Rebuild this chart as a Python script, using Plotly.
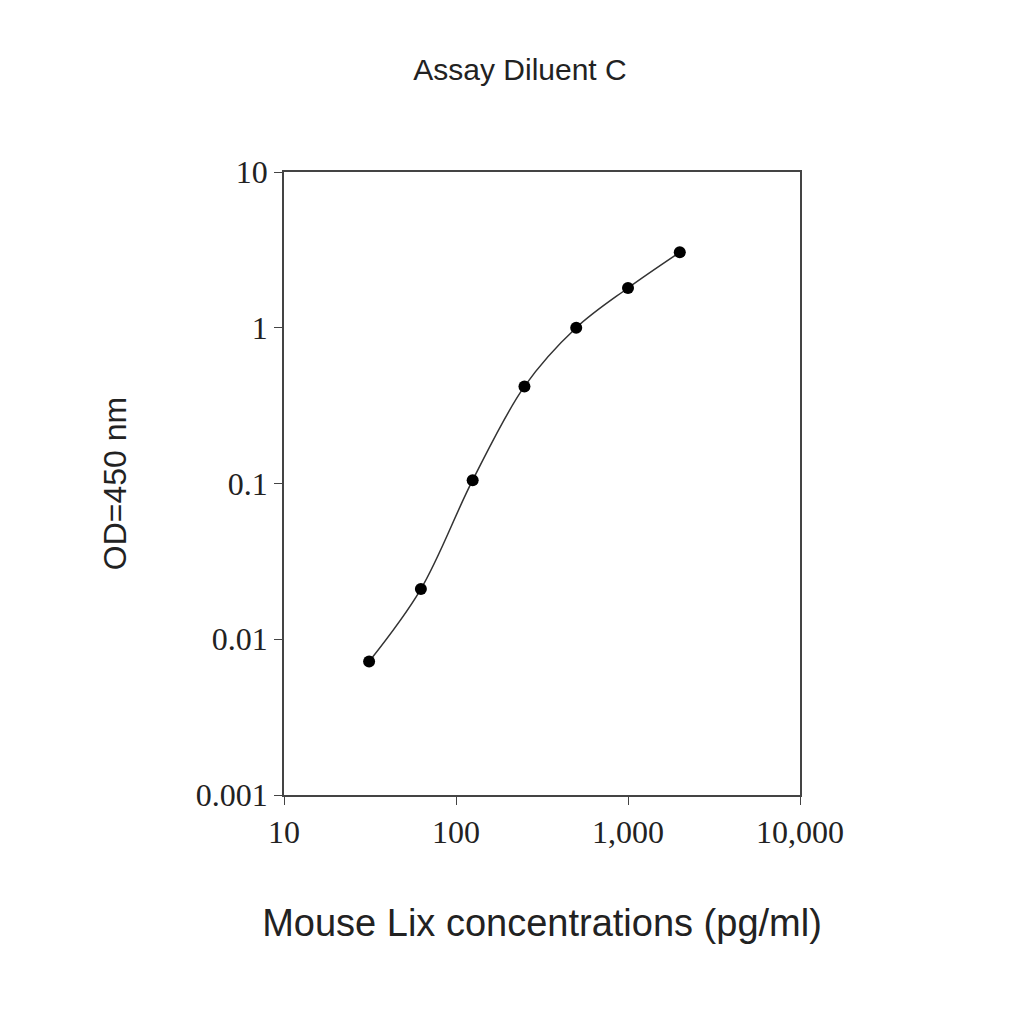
import plotly.graph_objects as go

conc = [31.25, 62.5, 125, 250, 500, 1000, 2000]
od = [0.0072, 0.021, 0.105, 0.42, 1.0, 1.8, 3.05]
xticks = [10, 100, 1000, 10000]
xticklabels = ["10", "100", "1,000", "10,000"]
yticks = [0.001, 0.01, 0.1, 1, 10]
yticklabels = ["0.001", "0.01", "0.1", "1", "10"]

fig = go.Figure(go.Scatter(x=conc, y=od, mode="lines+markers",
    line=dict(color="#333", width=1.5, shape="spline"),
    marker=dict(color="black", size=12)))
fig.update_layout(
    width=1024, height=1024, plot_bgcolor="white", paper_bgcolor="white",
    margin=dict(l=276, r=232, t=164, b=237), showlegend=False,
    title=dict(text="Assay Diluent C", x=0.5, xanchor="center", y=0.95,
               font=dict(family="Liberation Sans", size=30, color="#222")),
)
fig.update_xaxes(type="log", range=[1, 4], tickvals=xticks, ticktext=xticklabels,
    ticks="outside", ticklen=8, linecolor="#444", linewidth=1.5, mirror=True,
    showgrid=False, tickfont=dict(family="Liberation Serif", size=32, color="#222"),
    title=dict(text="Mouse Lix concentrations (pg/ml)", standoff=60,
               font=dict(family="Liberation Sans", size=38, color="#222")))
fig.update_yaxes(type="log", range=[-3, 1], tickvals=yticks, ticktext=yticklabels,
    ticks="outside", ticklen=8, linecolor="#444", linewidth=1.5, mirror=True,
    showgrid=False, tickfont=dict(family="Liberation Serif", size=32, color="#222"),
    title=dict(text="OD=450 nm", standoff=60,
               font=dict(family="Liberation Sans", size=32, color="#222")))
fig.write_html("out.html")
